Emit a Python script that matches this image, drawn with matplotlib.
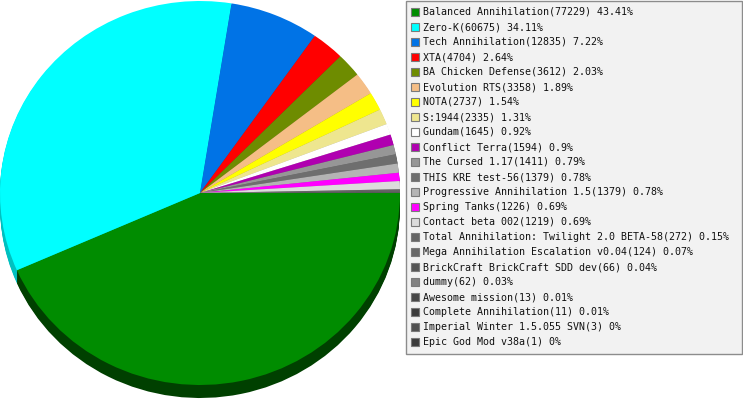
import numpy as np
import matplotlib
matplotlib.use('Agg')
import matplotlib.pyplot as plt
from matplotlib.patches import Rectangle

names = ['Balanced Annihilation', 'Zero-K', 'Tech Annihilation', 'XTA',
         'BA Chicken Defense', 'Evolution RTS', 'NOTA', 'S:1944', 'Gundam',
         'Conflict Terra', 'The Cursed 1.17', 'THIS KRE test-56',
         'Progressive Annihilation 1.5', 'Spring Tanks', 'Contact beta 002',
         'Total Annihilation: Twilight 2.0 BETA-58',
         'Mega Annihilation Escalation v0.04', 'BrickCraft BrickCraft SDD dev',
         'dummy', 'Awesome mission', 'Complete Annihilation',
         'Imperial Winter 1.5.055 SVN', 'Epic God Mod v38a']
counts = [77229, 60675, 12835, 4704, 3612, 3358, 2737, 2335, 1645, 1594,
          1411, 1379, 1379, 1226, 1219, 272, 124, 66, 62, 13, 11, 3, 1]
pct_labels = ['43.41%', '34.11%', '7.22%', '2.64%', '2.03%', '1.89%', '1.54%',
              '1.31%', '0.92%', '0.9%', '0.79%', '0.78%', '0.78%', '0.69%',
              '0.69%', '0.15%', '0.07%', '0.04%', '0.03%', '0.01%', '0.01%',
              '0%', '0%']

colors = ['#008c00', '#00ffff', '#0073e6', '#ff0000', '#6e8c00', '#f5be86',
          '#ffff00', '#eee68f', '#ffffff', '#b000b0', '#969696', '#6e6e6e',
          '#b4b4b4', '#ff00ff', '#dcdcdc', '#646464', '#696969', '#555555',
          '#828282', '#464646', '#3c3c3c', '#505050', '#3c3c3c']
side_colors = ['#004000', '#00c0c0'] + [
    tuple(0.7 * np.array(matplotlib.colors.to_rgb(c))) for c in colors[2:]]

W, H = 743, 400
fig = plt.figure(figsize=(W / 100, H / 100), dpi=100)

# pie: ellipse rx=200 px, ry=192 px, depth 13 px
rx, ry, depth = 200, 192, 13
ext = depth / ry
pie_ax = fig.add_axes([0, (H - 1 - (2 * ry + depth)) / H, 2 * rx / W, (2 * ry + depth) / H])
for off in np.linspace(ext, 0, 14)[:-1]:
    pie_ax.pie(counts, colors=side_colors, center=(0, -off), radius=1,
               startangle=0, counterclock=False,
               wedgeprops=dict(linewidth=0))
pie_ax.pie(counts, colors=colors, center=(0, 0), radius=1,
           startangle=0, counterclock=False,
           wedgeprops=dict(linewidth=0))
pie_ax.set_aspect('auto')
pie_ax.set_xlim(-1, 1)
pie_ax.set_ylim(-1 - ext, 1)
pie_ax.axis('off')

# legend in pixel coordinates
leg = fig.add_axes([0, 0, 1, 1])
leg.set_xlim(0, W)
leg.set_ylim(H, 0)
leg.axis('off')
leg.add_patch(Rectangle((405.5, 0.5), 336.5, 353, facecolor='#f2f2f2',
                        edgecolor='#8c8c8c', linewidth=1))
for i, (n, c, p, col) in enumerate(zip(names, counts, pct_labels, colors)):
    y = 12 + 15 * i
    leg.add_patch(Rectangle((410.5, y - 4), 8, 8, facecolor=col,
                            edgecolor='#7a7a7a', linewidth=0.8))
    leg.text(423, y, f'{n}({c}) {p}', fontsize=7.2, family='DejaVu Sans Mono',
             va='center', ha='left', color='#111111')

fig.savefig('out.png', dpi=100)
